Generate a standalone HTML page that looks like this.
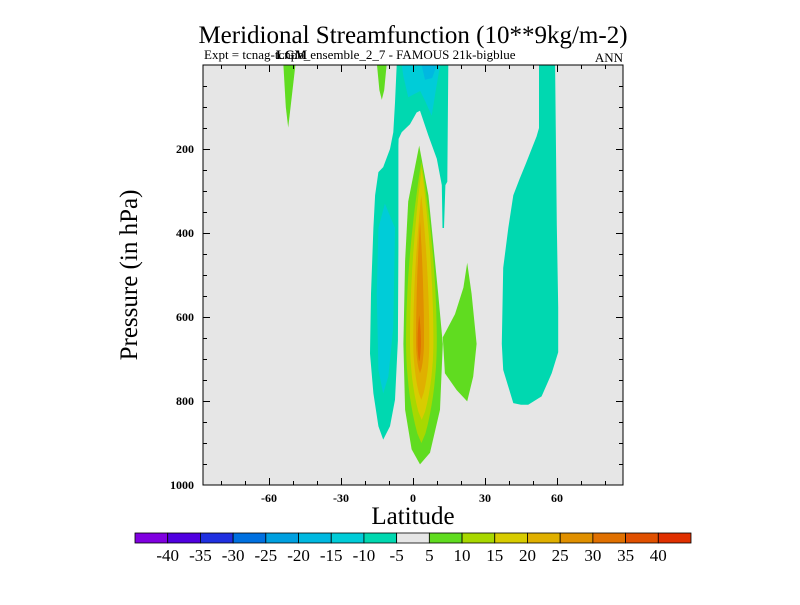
<!DOCTYPE html>
<html><head><meta charset="utf-8"><style>
body{margin:0;background:#fff;width:800px;height:600px;overflow:hidden}
svg text{font-family:"Liberation Serif",serif}
</style></head><body>
<svg id="chart" width="800" height="600">
<text x="413" y="43" font-size="25" text-anchor="middle">Meridional Streamfunction (10**9kg/m-2)</text>
<text x="204" y="59" font-size="13">Expt = tcnag-tcnpb_ensemble_2_7 - FAMOUS 21k-bigblue</text>
<text x="276" y="59" font-size="13" font-weight="bold">LGM</text>
<text x="623" y="62" font-size="13" text-anchor="end">ANN</text>
<rect x="203" y="65" width="420" height="420" fill="#e6e6e6"/>
<g id="fills"></g>
<rect x="203" y="65" width="420" height="420" fill="none" stroke="#000" stroke-width="1"/>
<g id="ticks"></g>
<text transform="translate(137,275) rotate(-90)" font-size="25" text-anchor="middle">Pressure (in hPa)</text>
<text x="413" y="524" font-size="25" text-anchor="middle">Latitude</text>
<g id="cbar"></g>
</svg>
<script>
const latTicks=[-60,-30,0,30,60];
const presTicks=[200,400,600,800,1000];
const cbarColors=["#8000e0","#5000e0","#2030e0","#0070e0","#00a0e0","#00b8e0","#00ccd8","#00d8b0","#e6e6e6","#60dc20","#a8d800","#d8cc00","#e0b000","#e09000","#e07000","#e05000","#e03000"];
const cbarLabels=["-40","-35","-30","-25","-20","-15","-10","-5","5","10","15","20","25","30","35","40"];
// contour regions in (lat, pressure hPa)
const tealLeft=[[-6.8,0],[14.7,0],[14.3,278],[13.5,286],[12.9,388],[12.3,388],[12,286],[9.9,223],[6.4,168],[2.9,109],[1.5,113],[-1.25,141],[-4.7,160],[-6,176],[-6.1,192],[-6.1,436],[-6.3,656],[-7.5,797],[-9.6,860],[-12.4,892],[-14.4,860],[-16.5,782],[-17.9,687],[-17.5,545],[-16.5,388],[-15.8,310],[-14.4,255],[-12.4,243],[-9.6,200],[-8.2,160],[-7.5,90]];
const blueTop=[[-4.7,0],[11.3,0],[9.5,60],[7.8,121],[5,85],[3,62],[-2,77],[-4,27]];
const blueTopDark=[[3.6,0],[9.9,0],[8,31],[5,35]];
const blueLobe=[[-11.7,330],[-7.5,388],[-8.2,624],[-10.3,742],[-12.4,782],[-14.4,726],[-15.1,545],[-14.4,388]];
const tealRight=[[52.5,0],[59.2,0],[59.9,380],[60.5,577],[60.5,684],[57.8,734],[53.6,789],[48,809],[45,809],[41.8,805],[37.6,726],[37,664],[37.6,483],[39.7,388],[41.8,310],[44.5,270],[47,235],[49.4,200],[51.5,170],[52.5,150]];
const greenSmall1=[[-54,0],[-49,0],[-51,100],[-52,149],[-53,100]];
const greenSmall2=[[-15,0],[-11,0],[-12,60],[-13,83],[-14,60]];
const greenMain=[[2.6,192],[6.4,310],[8.5,428],[10.5,545],[12.4,664],[11.25,821],[7.1,923],[2.9,951],[-0.6,915],[-3.3,821],[-4,664],[-3.3,467],[-2,325]];
const greenWing=[[12.4,648],[17.5,593],[21,530],[22.6,471],[24.4,545],[26.5,664],[25.1,742],[22.6,801],[18.2,774],[13.3,734]];
// nested positive lenses: [topP, bottomP, leftLat, rightLat, widestP]
const lensLevels=["#a8d800","#d8cc00","#e0b000","#e09000","#e07000"];
const lensTop=[231,247,310,372,596];
const lensBottom=[900,845,797,734,706];
const lensLeft=[-2.9,-1.25,0.1,1.25,1.9];
const lensRight=[9.9,8.5,6.8,4.6,3.3];
const lensWide=[660,660,660,660,660];

const X=lat=>413+2.4*lat, Y=p=>65+0.42*p;
const NS="http://www.w3.org/2000/svg";
const fills=document.getElementById('fills');
function poly(pts,color,name){
  const e=document.createElementNS(NS,'polygon');
  e.setAttribute('points',pts.map(q=>X(q[0]).toFixed(1)+','+Y(q[1]).toFixed(1)).join(' '));
  e.setAttribute('fill',color);
  
  
  fills.appendChild(e);
}
poly(tealLeft,"#00d8b0","contour-teal-left");
poly(blueTop,"#00ccd8","contour-blue-top");
poly(blueTopDark,"#00b8e0","contour-darkblue-top");
poly(blueLobe,"#00ccd8","contour-blue-lobe");
poly(tealRight,"#00d8b0","contour-teal-right");
poly(greenSmall1,"#60dc20","contour-green-small-1");
poly(greenSmall2,"#60dc20","contour-green-small-2");
poly(greenWing,"#60dc20","contour-green-wing");
poly(greenMain,"#60dc20","contour-green-main");
for(let i=0;i<lensLevels.length;i++){
  const t=lensTop[i],b=lensBottom[i],l=lensLeft[i],r=lensRight[i],w=lensWide[i];
  const c=(l+r)/2,h=(r-l)/2;const right=[],left=[];
  for(let k=0;k<=30;k++){
    const p=t+(b-t)*k/30;
    const f=p<=w?Math.pow(Math.sin(Math.PI/2*(p-t)/(w-t)),0.9):Math.pow(Math.cos(Math.PI/2*(p-w)/(b-w)),0.7);
    right.push([c+h*f,p]);left.unshift([c-h*f,p]);
  }
  poly(right.concat(left),lensLevels[i],"contour-level-"+(i+2));
}
const tk=document.getElementById('ticks');
function line(x1,y1,x2,y2,name){const e=document.createElementNS(NS,'line');
  e.setAttribute('x1',x1);e.setAttribute('y1',y1);e.setAttribute('x2',x2);e.setAttribute('y2',y2);
  e.setAttribute('stroke','#000');e.setAttribute('stroke-width','1');
  
  
  tk.appendChild(e);}
function text(x,y,s,anchor,size,name,parent,bold){const e=document.createElementNS(NS,'text');
  e.setAttribute('x',x);e.setAttribute('y',y);e.setAttribute('text-anchor',anchor);e.setAttribute('font-size',size);
  if(bold)e.setAttribute('font-weight','bold');
  e.textContent=s;
  
  
  parent.appendChild(e);}
for(let lat=-80;lat<=80;lat+=10){const x=X(lat)+0.5;const big=lat%30===0;
  line(x,485,x,485-(big?7:4),'x-tick');line(x,65,x,65+(big?7:4),'x-tick-top');}
for(let p=50;p<1000;p+=50){const y=Y(p)+0.5;const big=p%200===0;
  line(203,y,203+(big?7:4),y,'y-tick');line(623,y,623-(big?7:4),y,'y-tick-right');}
latTicks.forEach(v=>text(X(v),502,String(v),'middle',12,'x-tick-label',tk,true));
presTicks.forEach(v=>text(194,Y(v)+4,String(v),'end',12,'y-tick-label',tk,true));
const cb=document.getElementById('cbar');
const cx0=135,cw=(691-135)/cbarColors.length;
cbarColors.forEach((c,i)=>{const e=document.createElementNS(NS,'rect');
  e.setAttribute('x',cx0+i*cw);e.setAttribute('y',533);e.setAttribute('width',cw);e.setAttribute('height',10);
  e.setAttribute('fill',c);e.setAttribute('stroke','#000');e.setAttribute('stroke-width','0.8');
  
  
  cb.appendChild(e);});
cbarLabels.forEach((s,i)=>text(cx0+(i+1)*cw,561,s,'middle',17,'colorbar-label',cb,false));
</script>
</body></html>
